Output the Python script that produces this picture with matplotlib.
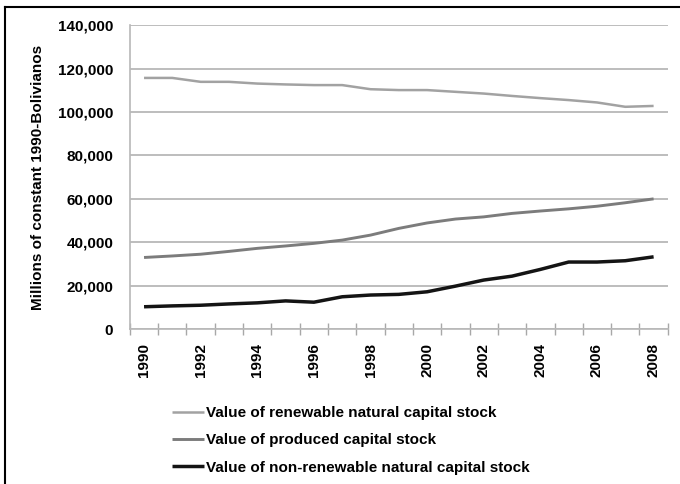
import numpy as np
import matplotlib
matplotlib.use("Agg")
import matplotlib.pyplot as plt
from matplotlib.lines import Line2D

plt.rcParams['font.family'] = ['Liberation Sans', 'DejaVu Sans']
plt.rcParams['font.weight'] = 'bold'

# Capital stock values, millions of constant 1990 Bolivianos
years = list(range(1990, 2009))
renewable = [115700, 115700, 113900, 113900, 113100, 112700, 112400, 112400, 110500, 110100,
             110100, 109300, 108500, 107400, 106400, 105500, 104400, 102400, 102800]
produced = [33000, 33700, 34500, 35800, 37200, 38300, 39500, 41000, 43300, 46400,
            48900, 50700, 51700, 53300, 54400, 55400, 56600, 58200, 60000]
non_renewable = [10300, 10700, 11000, 11600, 12100, 13000, 12400, 14900, 15700, 16000,
                 17200, 19800, 22600, 24400, 27500, 30900, 30900, 31500, 33300]

series = [
    ("Value of renewable natural capital stock", renewable, "#a2a2a2", 1.8),
    ("Value of produced capital stock", produced, "#7c7c7c", 2.1),
    ("Value of non-renewable natural capital stock", non_renewable, "#141414", 2.5),
]

fig = plt.figure(figsize=(6.8, 4.84), dpi=100)
ax = fig.add_axes([0.191, 0.320, 0.791, 0.628])

x = np.arange(len(years))
for label, vals, color, lw in series:
    ax.plot(x, vals, color=color, lw=lw, label=label, solid_capstyle='butt')

ax.set_xlim(-0.5, len(years) - 0.5)
ax.set_ylim(0, 140000)
ax.set_yticks(range(0, 140001, 20000))
ax.set_yticklabels([f"{v:,}" for v in range(0, 140001, 20000)], fontsize=11)
ax.grid(axis='y', color='#bdbdbd', lw=1.4)
ax.set_axisbelow(True)

# year labels every other category, tick marks on category boundaries
ax.set_xticks(x[::2])
ax.set_xticklabels([str(y) for y in years[::2]], rotation=90, fontsize=11)
ax.tick_params(axis='x', length=0, pad=10)
ax.set_xticks(np.arange(-0.5, len(years)), minor=True)
ax.tick_params(axis='x', which='minor', direction='inout', length=8, width=1, color='#a8a8a8')
ax.tick_params(axis='y', length=0, pad=12)

for side in ['top', 'right']:
    ax.spines[side].set_visible(False)
for side in ['left', 'bottom']:
    ax.spines[side].set_color('#b8b8b8')
    ax.spines[side].set_linewidth(1.2)

ax.set_ylabel("Millions of constant 1990-Bolivianos", fontsize=11, fontweight='bold', labelpad=9)

fig.legend(loc='upper left', bbox_to_anchor=(172 / 680, 1 - 406 / 484), frameon=False,
           fontsize=11, handlelength=2.1, handletextpad=0.15, labelspacing=0.87, borderpad=0,
           borderaxespad=0)

# page frame on the left and top edges
fig.add_artist(Line2D([5 / 680, 5 / 680], [0, 1 - 7 / 484], color='black', lw=1.5,
                      transform=fig.transFigure))
fig.add_artist(Line2D([5 / 680, 1], [1 - 7 / 484, 1 - 7 / 484], color='black', lw=1.5,
                      transform=fig.transFigure))

fig.savefig("out.png", dpi=100)
